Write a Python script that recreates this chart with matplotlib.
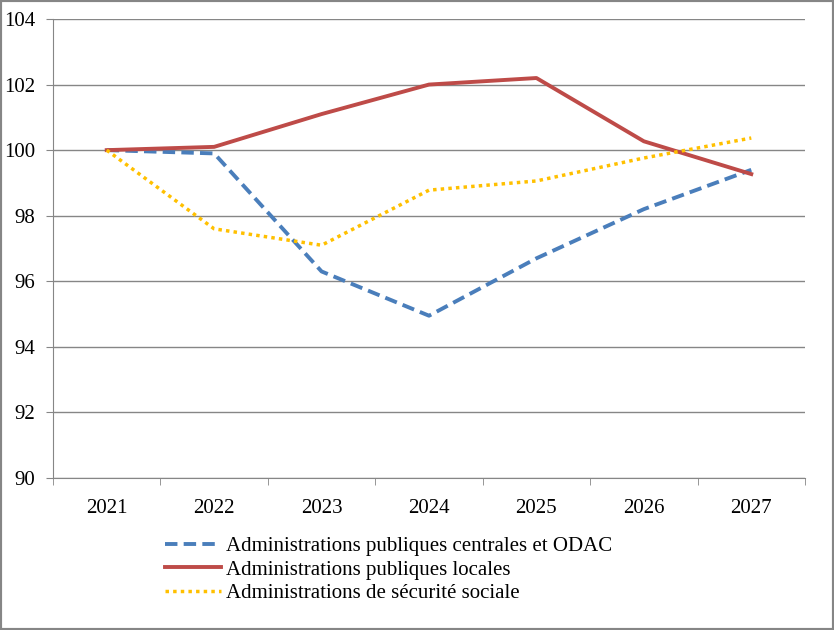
import matplotlib.pyplot as plt
from matplotlib.patches import Rectangle

years = ["2021", "2022", "2023", "2024", "2025", "2026", "2027"]
centrales = [100.0, 99.9, 96.3, 94.95, 96.7, 98.2, 99.4]
locales = [100.0, 100.1, 101.1, 102.0, 102.2, 100.27, 99.27]
secu = [100.0, 97.6, 97.1, 98.78, 99.06, 99.76, 100.37]

labels = ["Administrations publiques centrales et ODAC",
          "Administrations publiques locales",
          "Administrations de sécurité sociale"]

plt.rcParams['font.family'] = ['Liberation Serif', 'DejaVu Serif']

fig = plt.figure(figsize=(8.34, 6.3), dpi=100)
ax = fig.add_axes([53/834, 1 - 478/630, (805-53)/834, (478-19)/630])

x = list(range(len(years)))
l1, = ax.plot(x, centrales, color='#4a7ebb', lw=2.8, linestyle=(0, (3.2, 1.6)))
l2, = ax.plot(x, locales, color='#be4b48', lw=2.8, linestyle='-')
l3, = ax.plot(x, secu, color='#ffc000', lw=2.5, linestyle=(0, (1, 1.2)))

ax.set_xlim(-0.5, 6.5)
ax.set_ylim(90, 104)
ax.set_yticks(range(90, 105, 2))
ax.set_xticks(x)
ax.set_xticklabels(years, fontsize=15)
ax.tick_params(axis='x', length=0, pad=15)
ax.set_xticks([i - 0.5 for i in range(8)], minor=True)
ax.tick_params(axis='x', which='minor', length=5, color='#868686', direction='out')
ax.tick_params(axis='y', labelsize=15, length=5, color='#868686', direction='out', pad=8)
ax.grid(axis='y', color='#868686', lw=1)
ax.set_axisbelow(True)
for s in ['top', 'right']:
    ax.spines[s].set_visible(False)
for s in ['left', 'bottom']:
    ax.spines[s].set_color('#868686')

fig.legend([l1, l2, l3], labels, loc='upper left', bbox_to_anchor=(157/834, 1 - 528/630),
           frameon=False, fontsize=15, handlelength=2.65, handletextpad=0.25,
           labelspacing=0.2, borderaxespad=0)

fig.patches.append(Rectangle((0, 0), 1, 1, transform=fig.transFigure, fill=False,
                             edgecolor='#868686', lw=3))

fig.savefig("out.png", dpi=100)
